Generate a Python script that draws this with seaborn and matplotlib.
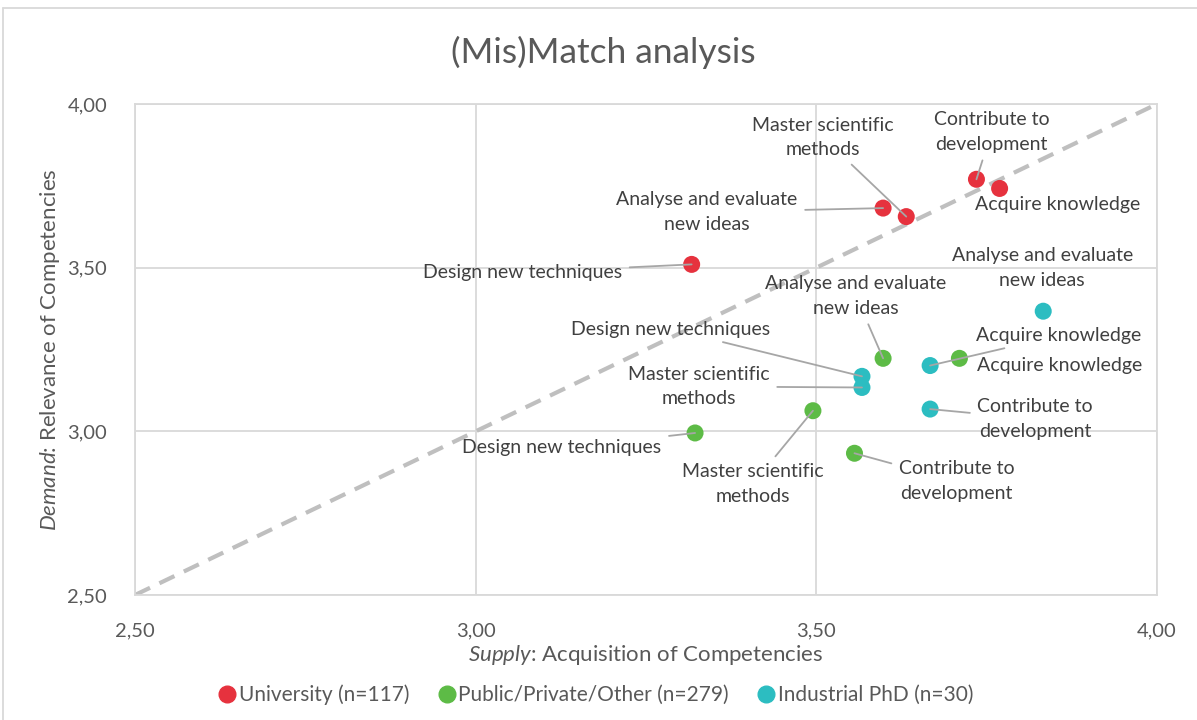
import pandas as pd
import matplotlib.pyplot as plt
import seaborn as sns
from matplotlib.lines import Line2D

# competencies, same order for every group
competencies = ['Design new techniques', 'Analyse and evaluate\nnew ideas',
                'Master scientific\nmethods', 'Contribute to\ndevelopment',
                'Acquire knowledge']

groups = ['University (n=117)', 'Public/Private/Other (n=279)', 'Industrial PhD (n=30)']

university_supply = [3.317, 3.598, 3.632, 3.735, 3.769]
university_demand = [3.510, 3.682, 3.656, 3.770, 3.742]
public_supply = [3.322, 3.598, 3.495, 3.556, 3.710]
public_demand = [2.995, 3.223, 3.063, 2.933, 3.223]
industrial_supply = [3.567, 3.833, 3.567, 3.667, 3.667]
industrial_demand = [3.168, 3.367, 3.134, 3.068, 3.201]

colors = ['#E6323E', '#5DBB46', '#2CBDC1']

# label placement (pixel offsets from the point) and leader lines
label_offsets = [
    [(-169, -8), (-176, -4), (-83, 79), (15, 47), (58, -16)],
    [(-133, -15), (-27, 62), (-60, -73), (102, -28), (100, -7)],
    [(-191, 47), (-1, 43), (-163, 1), (105, -10), (129, 30)],
]
leaders = [
    [True, True, True, True, False],
    [True, True, True, True, False],
    [True, False, True, True, True],
]

rows = []
for g, xs, ys in zip(groups,
                     [university_supply, public_supply, industrial_supply],
                     [university_demand, public_demand, industrial_demand]):
    for c, x, y in zip(competencies, xs, ys):
        rows.append({'group': g, 'competency': c, 'supply': x, 'demand': y})
df = pd.DataFrame(rows)

sns.set_style("white")
plt.rcParams['font.family'] = ['Lato', 'DejaVu Sans']
plt.rcParams['mathtext.fontset'] = 'custom'
plt.rcParams['mathtext.rm'] = 'Lato'
plt.rcParams['mathtext.it'] = 'Lato:italic'

text_col = '#404040'
tick_col = '#595959'
grid_col = '#D9D9D9'

fig = plt.figure(figsize=(11.97, 7.20), dpi=100)
ax = fig.add_axes([135 / 1197, 1 - 595 / 720, 1022 / 1197, 491 / 720])

ax.plot([2.5, 4.0], [2.5, 4.0], color='#BFBFBF', lw=3, ls=(0, (4, 2.5)), zorder=1)

sns.scatterplot(data=df, x='supply', y='demand', hue='group', hue_order=groups,
                palette=colors, s=150, edgecolor='none', legend=False, ax=ax, zorder=3)

for gi, g in enumerate(groups):
    sub = df[df['group'] == g].reset_index(drop=True)
    for i, r in sub.iterrows():
        dx, dy = label_offsets[gi][i]
        arrow = dict(arrowstyle='-', color='#A6A6A6', lw=1.3, shrinkA=3, shrinkB=0) if leaders[gi][i] else None
        ax.annotate(r['competency'], (r['supply'], r['demand']), xytext=(dx, dy),
                    textcoords='offset pixels', ha='center', va='center',
                    multialignment='center', fontsize=14, linespacing=1.55,
                    color=text_col, arrowprops=arrow, zorder=4)

ax.set_xlim(2.5, 4.0)
ax.set_ylim(2.5, 4.0)
ticks = [2.5, 3.0, 3.5, 4.0]
tick_labels = ['2,50', '3,00', '3,50', '4,00']
ax.set_xticks(ticks)
ax.set_xticklabels(tick_labels)
ax.set_yticks(ticks)
ax.set_yticklabels(tick_labels)
ax.tick_params(axis='x', length=0, pad=20, labelsize=14.5, labelcolor=tick_col)
ax.tick_params(axis='y', length=0, pad=20, labelsize=14.5, labelcolor=tick_col)
ax.grid(True, color=grid_col, lw=1.3)
ax.set_axisbelow(True)
for sp in ax.spines.values():
    sp.set_color(grid_col)
    sp.set_linewidth(1.3)

ax.set_xlabel(r'$\mathit{Supply}$: Acquisition of Competencies', fontsize=16,
              color=tick_col, labelpad=2)
ax.set_ylabel(r'$\mathit{Demand}$: Relevance of Competencies', fontsize=16,
              color=tick_col, labelpad=4)

fig.text(0.504, 1 - 52 / 720, '(Mis)Match analysis', ha='center', va='center',
         fontsize=25.5, color=tick_col)

handles = [Line2D([], [], marker='o', ls='none', color=c, markersize=12) for c in colors]
fig.legend(handles, groups, loc='center', bbox_to_anchor=(0.497, 1 - 695 / 720),
           ncol=3, frameon=False, fontsize=15, labelcolor=tick_col,
           handletextpad=0.05, columnspacing=1.3, handlelength=1.0)

# chart border
fig.add_artist(Line2D([3 / 1197, 3 / 1197], [0, 1 - 8 / 720], color=grid_col, lw=1.3))
fig.add_artist(Line2D([3 / 1197, 1], [1 - 8 / 720, 1 - 8 / 720], color=grid_col, lw=1.3))

fig.savefig('out.png', dpi=100)
